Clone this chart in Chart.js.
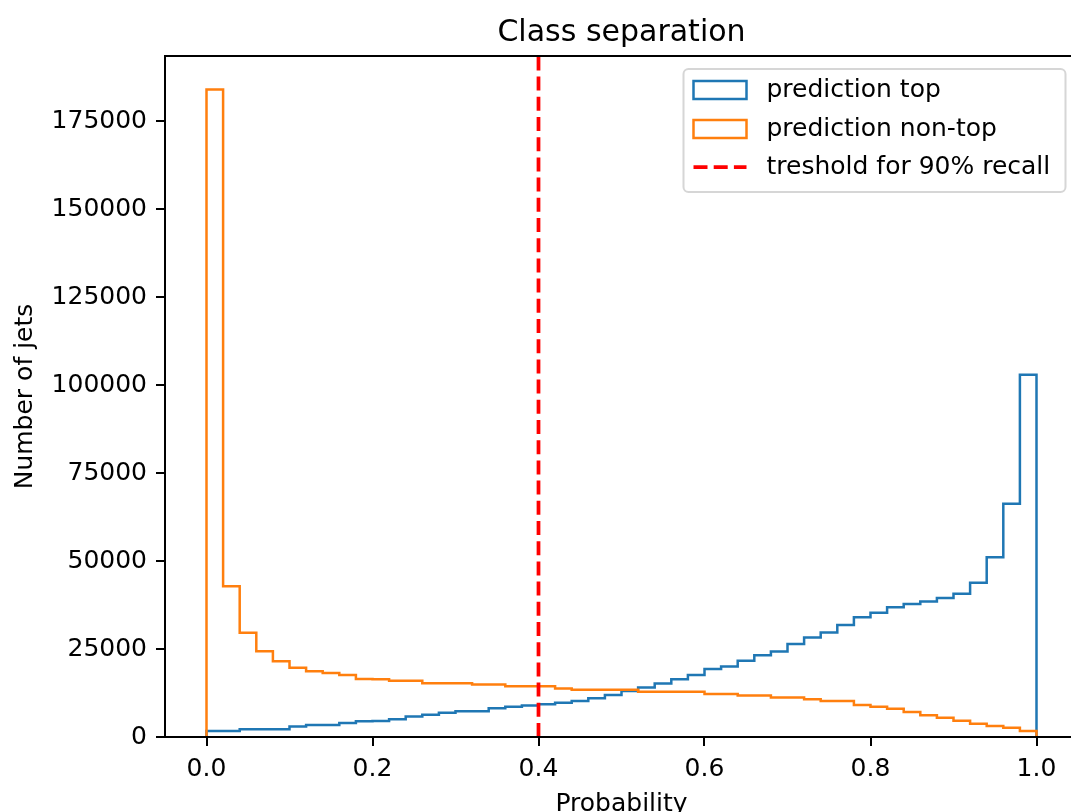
<!DOCTYPE html>
<html>
<head>
<meta charset="utf-8">
<script src="https://cdn.jsdelivr.net/npm/chart.js@4.4.1/dist/chart.umd.min.js"></script>
<style>
  html, body { margin: 0; padding: 0; width: 1071px; height: 812px; overflow: hidden; background: #fff; }
  #wrap { position: absolute; left: 0; top: 0; width: 1100px; height: 840px; }
</style>
</head>
<body>
<div id="wrap"><canvas id="myChart"></canvas></div>
<script>
// histogram bins: 50 bins on [0, 1]
const binLo = 0, binHi = 1, nBins = 50;

// counts per bin
const countsTop = [
  1700, 1700, 2200, 2200, 2200, 3000, 3400, 3400, 4000, 4500,
  4550, 5050, 5800, 6300, 6900, 7300, 7350, 8150, 8600, 8950,
  9300, 9700, 10250, 11000, 11900, 13100, 14050, 15200, 16400, 17600,
  19300, 20000, 21700, 23200, 24300, 26400, 28300, 29700, 31800, 34000,
  35300, 36900, 37800, 38500, 39500, 40700, 43800, 51100, 66300, 102900
];
const countsNonTop = [
  184000, 42800, 29600, 24400, 21500, 19700, 18700, 18200, 17600, 16500,
  16400, 15950, 15950, 15300, 15300, 15300, 14900, 14900, 14400, 14400,
  14400, 13800, 13400, 13400, 13400, 13400, 12850, 12850, 12850, 12850,
  12200, 12200, 11800, 11800, 11200, 11200, 10700, 10200, 10200, 9100,
  8600, 8000, 7100, 6200, 5500, 4600, 3800, 3100, 2600, 1700
];
const threshold = 0.4;

const xTicks = [0, 0.2, 0.4, 0.6, 0.8, 1.0];
const yTicks = [0, 25000, 50000, 75000, 100000, 125000, 150000, 175000];
const xMin = -0.05, xMax = 1.05, yMax = 193500;

const labels = ['prediction top', 'prediction non-top', 'treshold for 90% recall'];

const edges = [];
for (let i = 0; i <= nBins; i++) edges.push(binLo + (binHi - binLo) * i / nBins);

function stepPoints(counts) {
  const pts = [{x: edges[0], y: 0}];
  counts.forEach((c, i) => pts.push({x: edges[i], y: c}));
  pts.push({x: edges[counts.length], y: 0});
  return pts;
}

Chart.defaults.font.family = 'DejaVu Sans';
Chart.defaults.color = '#000';

const frameAndLegend = {
  id: 'frameAndLegend',
  afterDraw(chart) {
    const ctx = chart.ctx, a = chart.chartArea;
    ctx.save();
    // axes frame
    ctx.strokeStyle = '#000';
    ctx.lineWidth = 2;
    ctx.strokeRect(a.left, a.top, a.right - a.left, a.bottom - a.top);

    // title
    ctx.fillStyle = '#000';
    ctx.font = '30px "DejaVu Sans"';
    ctx.textAlign = 'center';
    ctx.textBaseline = 'alphabetic';
    ctx.fillText('Class separation', (a.left + a.right) / 2, a.top - 15);

    // legend
    const w = 382, h = 123;
    const lx = a.right - 12.5 - w, ly = a.top + 13;
    ctx.beginPath();
    ctx.roundRect(lx, ly, w, h, 5);
    ctx.fillStyle = 'rgba(255,255,255,0.8)';
    ctx.fill();
    ctx.strokeStyle = '#d6d6d6';
    ctx.lineWidth = 2;
    ctx.stroke();

    const rows = [21, 60, 98];
    chart.data.datasets.forEach((ds, i) => {
      const cy = ly + rows[i];
      ctx.strokeStyle = ds.borderColor;
      if (i < 2) {
        ctx.lineWidth = 2.5;
        ctx.setLineDash([]);
        ctx.strokeRect(lx + 10, cy - 9, 53, 18);
      } else {
        ctx.lineWidth = ds.borderWidth;
        ctx.setLineDash(ds.borderDash);
        ctx.beginPath();
        ctx.moveTo(lx + 10, cy);
        ctx.lineTo(lx + 63, cy);
        ctx.stroke();
        ctx.setLineDash([]);
      }
      ctx.fillStyle = '#000';
      ctx.font = '25px "DejaVu Sans"';
      ctx.textAlign = 'left';
      ctx.textBaseline = 'middle';
      ctx.fillText(ds.label, lx + 83, cy);
    });
    ctx.restore();
  }
};

new Chart(document.getElementById('myChart'), {
  type: 'line',
  data: {
    datasets: [
      {
        label: labels[0],
        data: stepPoints(countsTop),
        borderColor: '#1f77b4',
        borderWidth: 2.5,
        stepped: 'before',
        pointRadius: 0,
        fill: false,
        order: 2
      },
      {
        label: labels[1],
        data: stepPoints(countsNonTop),
        borderColor: '#ff7f0e',
        borderWidth: 2.5,
        stepped: 'before',
        pointRadius: 0,
        fill: false,
        order: 1
      },
      {
        label: labels[2],
        data: [{x: threshold, y: 0}, {x: threshold, y: yMax}],
        borderColor: 'red',
        borderWidth: 3.75,
        borderDash: [14, 6.2],
        pointRadius: 0,
        fill: false,
        order: 0
      }
    ]
  },
  options: {
    responsive: true,
    maintainAspectRatio: false,
    animation: false,
    layout: { padding: { top: 56, right: 22, left: 0, bottom: 0 } },
    plugins: {
      legend: { display: false },
      tooltip: { enabled: false },
      title: { display: false }
    },
    scales: {
      x: {
        type: 'linear',
        min: xMin,
        max: xMax,
        afterBuildTicks: s => { s.ticks = xTicks.map(v => ({value: v})); },
        afterFit: s => { s.height = 103; },
        grid: { drawOnChartArea: false, color: '#000', lineWidth: 2, tickLength: 9 },
        border: { display: false },
        ticks: {
          font: { size: 25 },
          padding: 8,
          maxRotation: 0,
          callback: v => v.toFixed(1)
        },
        title: {
          display: true,
          text: 'Probability',
          font: { size: 25 },
          padding: { top: 0, bottom: 21 }
        }
      },
      y: {
        min: 0,
        max: yMax,
        afterBuildTicks: s => { s.ticks = yTicks.map(v => ({value: v})); },
        afterFit: s => { s.width = 165; },
        grid: { drawOnChartArea: false, color: '#000', lineWidth: 2, tickLength: 9 },
        border: { display: false },
        ticks: {
          font: { size: 25 },
          padding: 9,
          callback: v => String(v)
        },
        title: {
          display: true,
          text: 'Number of jets',
          font: { size: 25 },
          padding: { top: 10, bottom: 0 }
        }
      }
    }
  },
  plugins: [frameAndLegend]
});
</script>
</body>
</html>
